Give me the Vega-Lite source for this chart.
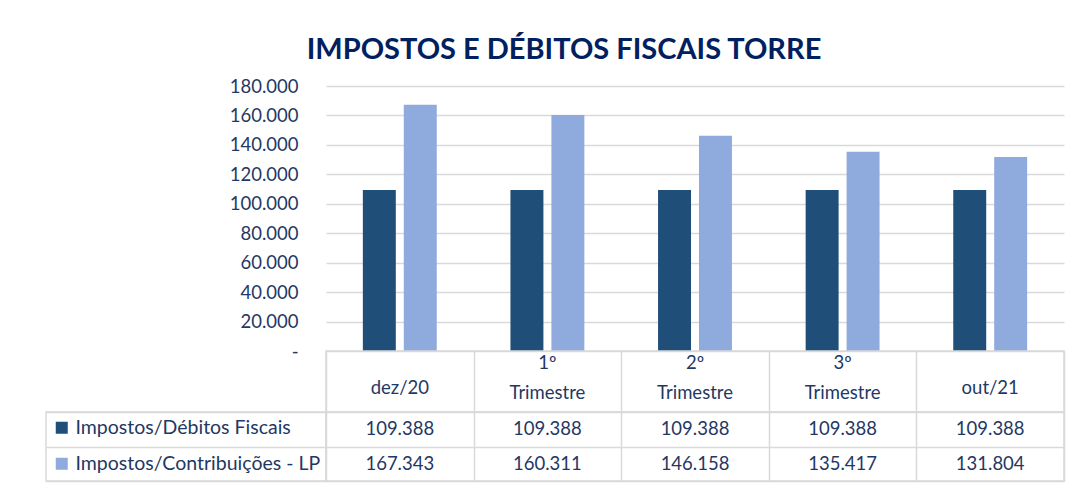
{
  "$schema": "https://vega.github.io/schema/vega-lite/v6.json",
  "padding": {"left": 45, "top": 36, "right": 3, "bottom": 8},
  "background": "#ffffff",
  "title": {
    "text": "IMPOSTOS E DÉBITOS FISCAIS TORRE",
    "font": "Lato",
    "fontSize": 29,
    "fontWeight": "bold",
    "color": "#002060",
    "anchor": "middle",
    "dx": 9,
    "offset": 12
  },
  "datasets": {
    "vals": [
      {"cat": "dez/20", "series": "Impostos/Débitos Fiscais", "value": 109388},
      {"cat": "1º Trimestre", "series": "Impostos/Débitos Fiscais", "value": 109388},
      {"cat": "2º Trimestre", "series": "Impostos/Débitos Fiscais", "value": 109388},
      {"cat": "3º Trimestre", "series": "Impostos/Débitos Fiscais", "value": 109388},
      {"cat": "out/21", "series": "Impostos/Débitos Fiscais", "value": 109388},
      {"cat": "dez/20", "series": "Impostos/Contribuições - LP", "value": 167343},
      {"cat": "1º Trimestre", "series": "Impostos/Contribuições - LP", "value": 160311},
      {"cat": "2º Trimestre", "series": "Impostos/Contribuições - LP", "value": 146158},
      {"cat": "3º Trimestre", "series": "Impostos/Contribuições - LP", "value": 135417},
      {"cat": "out/21", "series": "Impostos/Contribuições - LP", "value": 131804}
    ],
    "hdr": [
      {"cat": "dez/20", "l1": "", "l2": "", "single": "dez/20"},
      {"cat": "1º Trimestre", "l1": "1º", "l2": "Trimestre", "single": ""},
      {"cat": "2º Trimestre", "l1": "2º", "l2": "Trimestre", "single": ""},
      {"cat": "3º Trimestre", "l1": "3º", "l2": "Trimestre", "single": ""},
      {"cat": "out/21", "l1": "", "l2": "", "single": "out/21"}
    ],
    "series": [
      {"series": "Impostos/Débitos Fiscais"},
      {"series": "Impostos/Contribuições - LP"}
    ]
  },
  "columns": 2,
  "spacing": 0,
  "align": "each",
  "bounds": "flush",
  "resolve": {"scale": {"color": "independent"}, "legend": {"color": "independent"}},
  "concat": [
    {
      "width": 280,
      "height": 265,
      "view": {"stroke": null},
      "data": {"values": [{}]},
      "mark": {"type": "text"},
      "encoding": {"text": {"value": ""}}
    },
    {
      "width": 738,
      "height": 265,
      "view": {"stroke": null},
      "data": {"name": "vals"},
      "mark": {"type": "bar"},
      "encoding": {
        "x": {
          "field": "cat",
          "type": "nominal",
          "sort": ["dez/20", "1º Trimestre", "2º Trimestre", "3º Trimestre", "out/21"],
          "scale": {"paddingInner": 0, "paddingOuter": 0},
          "axis": null
        },
        "xOffset": {
          "field": "series",
          "type": "nominal",
          "sort": ["Impostos/Débitos Fiscais", "Impostos/Contribuições - LP"],
          "scale": {"paddingInner": 0.195, "paddingOuter": 0.9}
        },
        "y": {
          "field": "value",
          "type": "quantitative",
          "scale": {"domain": [0, 180000], "nice": false},
          "axis": {
            "title": null,
            "values": [0, 20000, 40000, 60000, 80000, 100000, 120000, 140000, 160000, 180000],
            "format": ",d",
            "labelExpr": "datum.value === 0 ? '-' : datum.label",
            "grid": true,
            "gridColor": "#d9d9d9",
            "gridWidth": 1.5,
            "domain": false,
            "ticks": false,
            "labelPadding": 28,
            "labelFont": "Lato",
            "labelFontSize": 18.5,
            "labelColor": "#1f3864"
          }
        },
        "color": {
          "field": "series",
          "type": "nominal",
          "scale": {
            "domain": ["Impostos/Débitos Fiscais", "Impostos/Contribuições - LP"],
            "range": ["#1f4e79", "#8faadc"]
          },
          "legend": null
        }
      }
    },
    {
      "width": 280,
      "height": 61,
      "view": {"stroke": null},
      "data": {"values": [{}]},
      "mark": {"type": "text"},
      "encoding": {"text": {"value": ""}}
    },
    {
      "width": 738,
      "height": 61,
      "view": {"stroke": "#d9d9d9", "strokeWidth": 1.5},
      "data": {"name": "hdr"},
      "encoding": {
        "x": {
          "field": "cat",
          "type": "nominal",
          "sort": ["dez/20", "1º Trimestre", "2º Trimestre", "3º Trimestre", "out/21"],
          "scale": {"paddingInner": 0, "paddingOuter": 0},
          "axis": {
            "title": null,
            "labels": false,
            "ticks": false,
            "domain": false,
            "grid": true,
            "tickBand": "extent",
            "gridColor": "#d9d9d9",
            "gridWidth": 1.5
          }
        }
      },
      "layer": [
        {
          "mark": {"type": "text", "font": "Lato", "fontSize": 18.5, "color": "#1f3864", "baseline": "middle", "align": "center", "dy": -19},
          "encoding": {"text": {"field": "l1"}}
        },
        {
          "mark": {"type": "text", "font": "Lato", "fontSize": 18.5, "color": "#1f3864", "baseline": "middle", "align": "center", "dy": 11},
          "encoding": {"text": {"field": "l2"}}
        },
        {
          "mark": {"type": "text", "font": "Lato", "fontSize": 18.5, "color": "#1f3864", "baseline": "middle", "align": "center", "dy": 6},
          "encoding": {"text": {"field": "single"}}
        }
      ]
    },
    {
      "width": 280,
      "height": 69,
      "view": {"stroke": "#d9d9d9", "strokeWidth": 1.5},
      "data": {"name": "series"},
      "mark": {"type": "point", "shape": "square", "filled": true, "size": 0, "opacity": 1},
      "encoding": {
        "y": {
          "field": "series",
          "type": "nominal",
          "sort": ["Impostos/Débitos Fiscais", "Impostos/Contribuições - LP"],
          "scale": {"paddingInner": 0, "paddingOuter": 0},
          "axis": {
            "title": null,
            "labels": false,
            "ticks": false,
            "domain": false,
            "grid": true,
            "tickBand": "extent",
            "gridColor": "#d9d9d9",
            "gridWidth": 1.5
          }
        },
        "color": {
          "field": "series",
          "type": "nominal",
          "scale": {
            "domain": ["Impostos/Débitos Fiscais", "Impostos/Contribuições - LP"],
            "range": ["#1f4e79", "#8faadc"]
          },
          "legend": {
            "title": null,
            "orient": "top-left",
            "offset": 6,
            "padding": 0,
            "symbolType": "square",
            "symbolSize": 144,
            "symbolStrokeWidth": 0,
            "symbolOpacity": 1,
            "labelFont": "Lato",
            "labelFontSize": 19.5,
            "labelColor": "#1f3864",
            "labelLimit": 400,
            "labelOffset": 4,
            "rowPadding": 15
          }
        }
      }
    },
    {
      "width": 738,
      "height": 69,
      "view": {"stroke": "#d9d9d9", "strokeWidth": 1.5},
      "data": {"name": "vals"},
      "mark": {
        "type": "text",
        "font": "Lato",
        "fontSize": 18.5,
        "color": "#1f3864",
        "baseline": "middle",
        "align": "center"
      },
      "encoding": {
        "x": {
          "field": "cat",
          "type": "nominal",
          "sort": ["dez/20", "1º Trimestre", "2º Trimestre", "3º Trimestre", "out/21"],
          "scale": {"paddingInner": 0, "paddingOuter": 0},
          "axis": {
            "title": null,
            "labels": false,
            "ticks": false,
            "domain": false,
            "grid": true,
            "tickBand": "extent",
            "gridColor": "#d9d9d9",
            "gridWidth": 1.5
          }
        },
        "y": {
          "field": "series",
          "type": "nominal",
          "sort": ["Impostos/Débitos Fiscais", "Impostos/Contribuições - LP"],
          "scale": {"paddingInner": 0, "paddingOuter": 0},
          "axis": {
            "title": null,
            "labels": false,
            "ticks": false,
            "domain": false,
            "grid": true,
            "tickBand": "extent",
            "gridColor": "#d9d9d9",
            "gridWidth": 1.5
          }
        },
        "text": {"field": "value", "type": "quantitative", "format": ",d"}
      }
    }
  ],
  "config": {
    "font": "Lato",
    "locale": {
      "number": {
        "decimal": ",",
        "thousands": ".",
        "grouping": [3],
        "currency": ["R$", ""]
      }
    }
  }
}
